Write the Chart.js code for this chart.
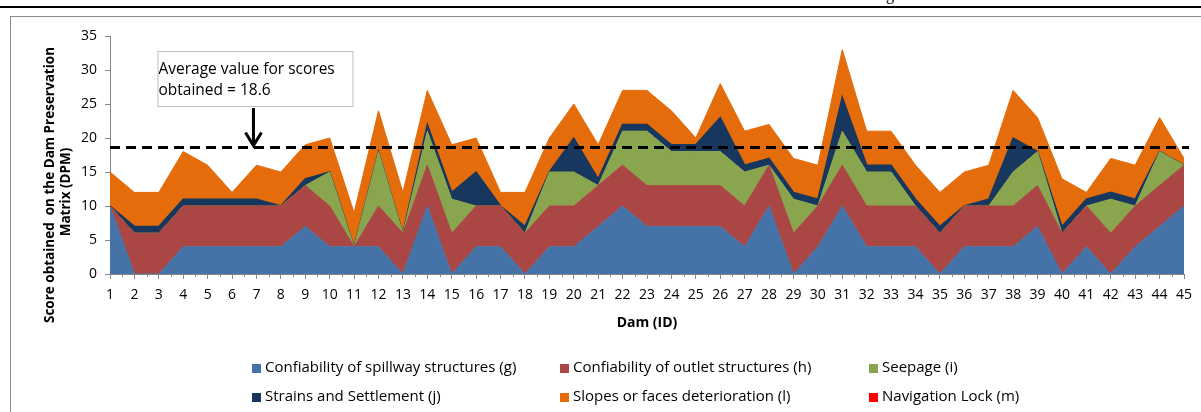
<!doctype html>
<html>

<head>
	<title>Dam Preservation Matrix</title>
	<script src="https://cdn.jsdelivr.net/npm/chart.js@4/dist/chart.umd.min.js"></script>
	<style>
		body {
			margin: 0;
			background: #fff;
		}
		.page {
			position: relative;
			width: 1201px;
			height: 412px;
			overflow: hidden;
		}
		.rule-top {
			position: absolute;
			left: 0;
			top: 6px;
			width: 1201px;
			height: 2px;
			background: #000;
		}
		.frame-top {
			position: absolute;
			left: 10px;
			top: 16px;
			width: 1191px;
			height: 1px;
			background: #8c8c8c;
		}
		.frame-left {
			position: absolute;
			left: 10px;
			top: 16px;
			width: 1px;
			height: 396px;
			background: #8c8c8c;
		}
		.stray {
			position: absolute;
			left: 886px;
			top: -13px;
			font: 16px 'Liberation Serif', serif;
			line-height: 16px;
		}
		canvas {
			position: absolute;
			left: 0;
			top: 0;
		}
		.legend-item {
			position: absolute;
			font: 15px 'Open Sans', sans-serif;
			color: #000;
			white-space: nowrap;
			line-height: 18px;
		}
		.legend-item span {
			display: inline-block;
			width: 9px;
			height: 9px;
			margin-right: 4px;
			vertical-align: -0.5px;
		}
	</style>
</head>

<body>
	<div class="page">
		<div class="stray">g</div>
		<div class="rule-top"></div>
		<div class="frame-top"></div>
		<div class="frame-left"></div>
		<canvas id="chart" width="1201" height="412"></canvas>
		<div id="legend"></div>
	</div>
	<script>
		var dams = ['1', '2', '3', '4', '5', '6', '7', '8', '9', '10', '11', '12', '13', '14', '15',
			'16', '17', '18', '19', '20', '21', '22', '23', '24', '25', '26', '27', '28', '29', '30',
			'31', '32', '33', '34', '35', '36', '37', '38', '39', '40', '41', '42', '43', '44', '45'];

		var spillway = [10, 0, 0, 4, 4, 4, 4, 4, 7, 4, 4, 4, 0, 10, 0, 4, 4, 0, 4, 4, 7, 10, 7, 7, 7,
			7, 4, 10, 0, 4, 10, 4, 4, 4, 0, 4, 4, 4, 7, 0, 4, 0, 4, 7, 10];
		var outlet = [0, 6, 6, 6, 6, 6, 6, 6, 6, 6, 0, 6, 6, 6, 6, 6, 6, 6, 6, 6, 6, 6, 6, 6, 6,
			6, 6, 6, 6, 6, 6, 6, 6, 6, 6, 6, 6, 6, 6, 6, 6, 6, 6, 6, 6];
		var seepage = [0, 0, 0, 0, 0, 0, 0, 0, 0, 5, 0, 8, 0, 5, 5, 0, 0, 0, 5, 5, 0, 5, 8, 5, 5,
			5, 5, 0, 5, 0, 5, 5, 5, 0, 0, 0, 0, 5, 5, 0, 0, 5, 0, 5, 0];
		var strains = [0, 1, 1, 1, 1, 1, 1, 0, 1, 0, 0, 0, 0, 1, 1, 5, 0, 1, 0, 5, 1, 1, 1, 1, 1,
			5, 1, 1, 1, 1, 5, 1, 1, 1, 1, 0, 1, 5, 0, 1, 1, 1, 1, 0, 0];
		var slopes = [5, 5, 5, 7, 5, 1, 5, 5, 5, 5, 5, 6, 6, 5, 7, 5, 2, 5, 5, 5, 5, 5, 5, 5, 1,
			5, 5, 5, 5, 5, 7, 5, 5, 5, 5, 5, 5, 7, 5, 7, 1, 5, 5, 5, 1];
		var navigation = [0, 0, 0, 0, 0, 0, 0, 0, 0, 0, 0, 0, 0, 0, 0, 0, 0, 0, 0, 0, 0, 0, 0, 0, 0,
			0, 0, 0, 0, 0, 0, 0, 0, 0, 0, 0, 0, 0, 0, 0, 0, 0, 0, 0, 0];

		var yTicks = [0, 5, 10, 15, 20, 25, 30, 35];
		var AVERAGE = 18.6;

		var series = [
			{ label: 'Confiability of spillway structures (g)', data: spillway, color: '#4572A7' },
			{ label: 'Confiability of outlet structures (h)', data: outlet, color: '#AA4643' },
			{ label: 'Seepage (i)', data: seepage, color: '#89A54E' },
			{ label: 'Strains and Settlement (j)', data: strains, color: '#17375E' },
			{ label: 'Slopes or faces deterioration (l)', data: slopes, color: '#E46C0A' },
			{ label: 'Navigation Lock (m)', data: navigation, color: '#FF0000' }
		];

		var tickFont = { family: 'Open Sans', size: 14 };

		// dashed average line, note box and arrow
		var averagePlugin = {
			id: 'average',
			afterDatasetsDraw: function(chart) {
				var ctx = chart.ctx, x = chart.scales.x, y = chart.scales.y;
				var yAvg = y.getPixelForValue(AVERAGE);
				ctx.save();
				ctx.strokeStyle = '#000';
				ctx.lineWidth = 3;
				ctx.setLineDash([10, 6]);
				ctx.beginPath();
				ctx.moveTo(chart.chartArea.left, yAvg);
				ctx.lineTo(chart.chartArea.right + 5, yAvg);
				ctx.stroke();
				ctx.setLineDash([]);

				var ax = x.getPixelForValue(6) - 3;
				var bx = ax - 96, by = 51, bw = 195, bh = 55;
				ctx.fillStyle = '#fff';
				ctx.fillRect(bx, by, bw, bh);
				ctx.strokeStyle = '#bfbfbf';
				ctx.lineWidth = 1;
				ctx.strokeRect(bx + 0.5, by + 0.5, bw, bh);
				ctx.fillStyle = '#000';
				ctx.font = '15.5px "Open Sans"';
				ctx.textBaseline = 'middle';
				ctx.textAlign = 'left';
				ctx.fillText('Average value for scores', bx + 1, by + 19);
				ctx.fillText('obtained = ' + AVERAGE, bx + 1, by + 40);

				ctx.strokeStyle = '#000';
				ctx.lineWidth = 3;
				ctx.beginPath();
				ctx.moveTo(ax, by + bh + 2);
				ctx.lineTo(ax, yAvg - 2);
				ctx.moveTo(ax - 8, yAvg - 15);
				ctx.lineTo(ax, yAvg - 2);
				ctx.lineTo(ax + 8, yAvg - 15);
				ctx.stroke();
				ctx.restore();
			}
		};

		// short ticks between dams and the two-line y title
		var axisExtras = {
			id: 'axisExtras',
			afterDraw: function(chart) {
				var ctx = chart.ctx, x = chart.scales.x, bottom = chart.chartArea.bottom;
				ctx.save();
				ctx.strokeStyle = '#868686';
				ctx.lineWidth = 1;
				ctx.beginPath();
				for (var i = 0; i < dams.length - 1; i++) {
					var px = Math.round((x.getPixelForValue(i) + x.getPixelForValue(i + 1)) / 2) + 0.5;
					ctx.moveTo(px, bottom);
					ctx.lineTo(px, bottom + 3);
				}
				ctx.stroke();

				ctx.fillStyle = '#000';
				ctx.font = 'bold 13.5px "Open Sans"';
				ctx.textAlign = 'center';
				ctx.textBaseline = 'middle';
				ctx.translate(50, 185);
				ctx.rotate(-Math.PI / 2);
				ctx.fillText('Score obtained  on the Dam Preservation', 0, 0);
				ctx.fillText('Matrix (DPM)', -7, 16);
				ctx.restore();
			}
		};

		window.onload = function() {
			var ctx = document.getElementById('chart').getContext('2d');
			new Chart(ctx, {
				type: 'line',
				data: {
					labels: dams,
					datasets: series.map(function(s, i) {
						return {
							label: s.label,
							data: s.data,
							backgroundColor: s.color,
							borderColor: s.color,
							borderWidth: i === 3 ? 1.5 : 1,
							pointRadius: 0,
							tension: 0,
							showLine: i !== 5,
							fill: i === 0 ? 'origin' : (i === 5 ? false : '-1')
						};
					})
				},
				options: {
					responsive: false,
					animation: false,
					layout: { padding: { left: 0, top: 36, right: 17, bottom: 0 } },
					plugins: {
						legend: { display: false },
						tooltip: { enabled: false }
					},
					scales: {
						x: {
							offset: false,
							afterFit: function(scale) { scale.height = 138; },
							grid: { drawOnChartArea: false, tickLength: 5, color: '#868686' },
							border: { color: '#868686' },
							ticks: { font: tickFont, color: '#000', padding: 8, maxRotation: 0, autoSkip: false },
							title: {
								display: true,
								text: 'Dam (ID)',
								font: { family: 'Open Sans', size: 14, weight: 'bold' },
								color: '#000',
								padding: { top: 0, bottom: 81 }
							}
						},
						y: {
							stacked: true,
							min: yTicks[0],
							max: yTicks[yTicks.length - 1],
							afterFit: function(scale) { scale.width = 110; },
							afterBuildTicks: function(scale) {
								scale.ticks = yTicks.map(function(v) { return { value: v }; });
							},
							grid: { drawOnChartArea: false, tickLength: 5, color: '#868686' },
							border: { color: '#868686' },
							ticks: { font: tickFont, color: '#000', padding: 8 }
						}
					}
				},
				plugins: [averagePlugin, axisExtras]
			});

			// legend in three columns, two rows
			var legend = document.getElementById('legend');
			var cols = [252, 560, 869], rows = [357, 386];
			series.forEach(function(s, i) {
				var item = document.createElement('div');
				item.className = 'legend-item';
				item.style.left = cols[i % 3] + 'px';
				item.style.top = rows[Math.floor(i / 3)] + 'px';
				item.innerHTML = '<span style="background:' + s.color + '"></span>' + s.label;
				legend.appendChild(item);
			});
		};
	</script>
</body>

</html>
